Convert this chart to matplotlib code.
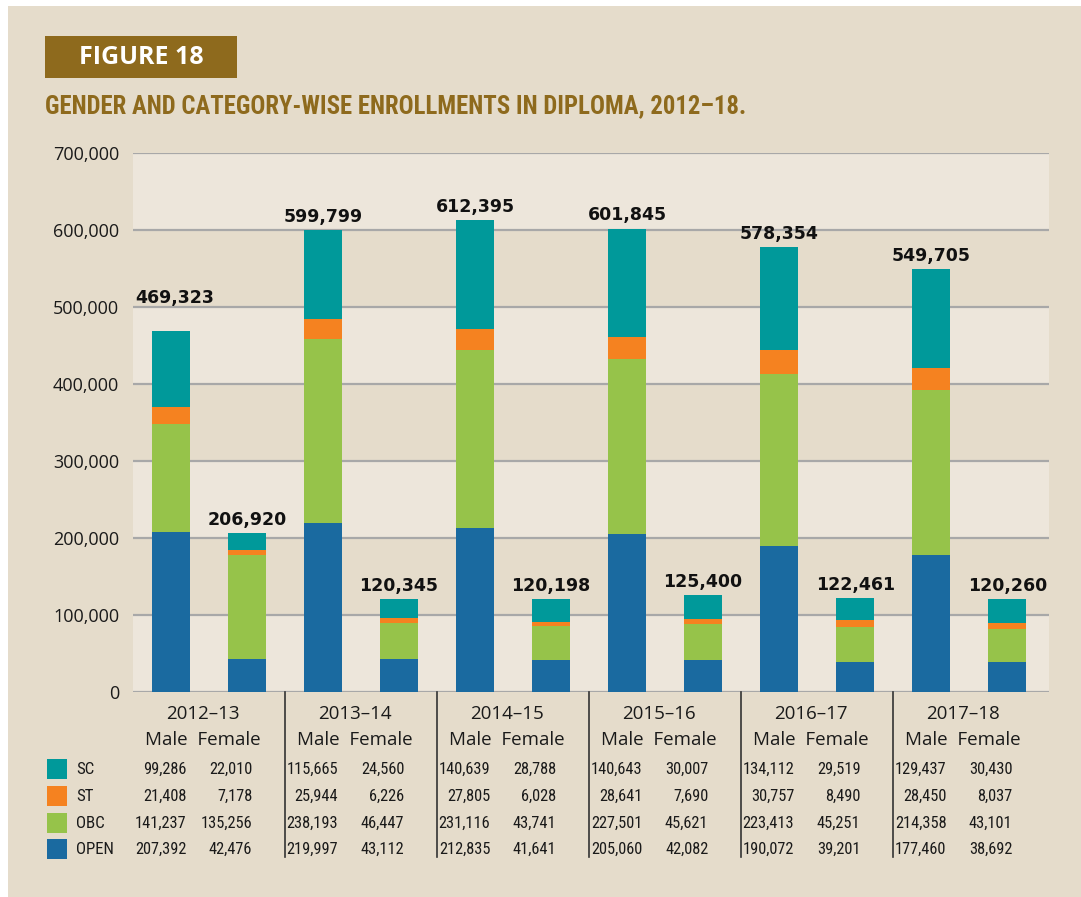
import numpy as np
import matplotlib.pyplot as plt
import matplotlib.transforms as mtransforms
from matplotlib import font_manager
from matplotlib.patches import Rectangle

years = ["2012–13", "2013–14", "2014–15", "2015–16", "2016–17", "2017–18"]
categories = ["SC", "ST", "OBC", "OPEN"]

male_sc = [99286, 115665, 140639, 140643, 134112, 129437]
male_st = [21408, 25944, 27805, 28641, 30757, 28450]
male_obc = [141237, 238193, 231116, 227501, 223413, 214358]
male_open = [207392, 219997, 212835, 205060, 190072, 177460]

female_sc = [22010, 24560, 28788, 30007, 29519, 30430]
female_st = [7178, 6226, 6028, 7690, 8490, 8037]
female_obc = [135256, 46447, 43741, 45621, 45251, 43101]
female_open = [42476, 43112, 41641, 42082, 39201, 38692]

colors = {"SC": "#00999A", "ST": "#F58220", "OBC": "#96C34A", "OPEN": "#1A6AA0"}
panel = "#E5DCCB"
band = "#EDE6DB"
brown = "#8E6A1D"

# pick a condensed face if one is around
names = {f.name for f in font_manager.fontManager.ttflist}
narrow = None
for cand in ["Liberation Sans Narrow", "Roboto Condensed", "Open Sans Condensed",
             "DejaVu Sans Condensed", "Noto Sans Condensed"]:
    if cand in names:
        narrow = dict(family=cand)
        break
if narrow is None:
    p = font_manager.findfont(font_manager.FontProperties(family="DejaVu Sans", stretch="condensed"))
    if "Condensed" in p:
        narrow = dict(family="DejaVu Sans", fontstretch="condensed")
    else:
        narrow = dict(family="Roboto")
narrow_scale = 1.0 if narrow["family"] != "Roboto" else 0.9

W, H = 1081, 897
fig = plt.figure(figsize=(W / 100, H / 100), dpi=100, facecolor="white")
fig.patches.append(Rectangle((8 / W, 0), 1, 1 - 6 / H, transform=fig.transFigure,
                             facecolor=panel, edgecolor="none", zorder=-10))


def fx(px):
    return px / W


def fy(py):
    return 1 - py / H


ax = fig.add_axes([fx(133), fy(692), fx(1049) - fx(133), (692 - 153) / H])
ax.set_facecolor(panel)

male = {"SC": male_sc, "ST": male_st, "OBC": male_obc, "OPEN": male_open}
female = {"SC": female_sc, "ST": female_st, "OBC": female_obc, "OPEN": female_open}

xm = np.arange(len(years)) * 2
xf = xm + 1
stack_order = ["OPEN", "OBC", "ST", "SC"]

for xs, d in [(xm, male), (xf, female)]:
    bottom = np.zeros(len(years))
    for c in stack_order:
        ax.bar(xs, d[c], 0.5, bottom=bottom, color=colors[c], zorder=3)
        bottom += np.array(d[c])
    for i, (x, tot) in enumerate(zip(xs, bottom)):
        off = 17 if (d is male and i == 0) else 3
        dx = 3 if (d is male and i == 0) else 0
        ax.annotate(f"{int(tot):,}", (x, tot), xytext=(dx, off), textcoords="offset points",
                    ha="center", va="bottom", fontsize=12.5, fontweight="bold",
                    family="DejaVu Sans", color="#111111")

# alternating bands and grid
for k in range(7):
    if k % 2 == 0:
        ax.axhspan(k * 100000, (k + 1) * 100000, color=band, zorder=0, lw=0)
    ax.axhline(k * 100000, color="#A8A8A8", lw=1.6, zorder=1)
ax.axhline(700000, color="#A8A8A8", lw=1.6, zorder=1)

ax.set_ylim(0, 700000)
ax.set_xlim(-0.5, 11.55)
ax.set_yticks(np.arange(0, 700001, 100000))
ax.set_yticklabels([f"{v:,}" for v in range(0, 700001, 100000)],
                   fontsize=13, family="Open Sans", color="#1a1a1a")
ax.tick_params(axis="y", length=0, pad=10)
ax.set_xticks([])
for s in ax.spines.values():
    s.set_visible(False)

# group dividers below axis
trans_div = mtransforms.blended_transform_factory(ax.transData, ax.transAxes)
for i in range(1, len(years)):
    xd = 2 * i - 0.5
    ax.plot([xd, xd], [0, -(857 - 692) / 539], transform=trans_div, color="#333333",
            lw=1.2, clip_on=False)

# table under the chart
tr = mtransforms.blended_transform_factory(ax.transData, fig.transFigure)
for i, yr in enumerate(years):
    gx = xm[i] + 0.5
    fig.text(gx - 0.08, fy(714), yr, transform=tr, ha="center", va="center",
             fontsize=13.5, family="Open Sans", color="#1a1a1a")
    fig.text(gx - 0.08, fy(740), "Male  Female", transform=tr, ha="center", va="center",
             fontsize=13.5, family="Open Sans", color="#1a1a1a")

row_y = [769, 796, 823, 849]
fs = 11.8 * narrow_scale
for c, ry in zip(categories, row_y):
    fig.patches.append(Rectangle((fx(47), fy(ry + 10)), 20 / W, 20 / H, transform=fig.transFigure,
                                 facecolor=colors[c], edgecolor="none"))
    fig.text(fx(76), fy(ry), c, ha="left", va="center", fontsize=fs + 0.4,
             color="#1a1a1a", **narrow)
    for i in range(len(years)):
        fig.text(xm[i] + 0.2, fy(ry), f"{male[c][i]:,}", transform=tr, ha="right",
                 va="center", fontsize=fs, color="#1a1a1a", **narrow)
        fig.text(xf[i] + 0.07, fy(ry), f"{female[c][i]:,}", transform=tr, ha="right",
                 va="center", fontsize=fs, color="#1a1a1a", **narrow)

# figure header
fig.patches.append(Rectangle((fx(45), fy(78)), (237 - 45) / W, 42 / H, transform=fig.transFigure,
                             facecolor=brown, edgecolor="none"))
fig.text(fx(141), fy(57), "FIGURE 18", ha="center", va="center", fontsize=18,
         fontweight="bold", family="Open Sans", color="white")
fig.text(fx(45), fy(106), "GENDER AND CATEGORY-WISE ENROLLMENTS IN DIPLOMA, 2012–18.",
         ha="left", va="center", fontsize=17.8 * narrow_scale, fontweight="bold",
         color=brown, **narrow)

fig.savefig("out.png", dpi=100, facecolor="white")
